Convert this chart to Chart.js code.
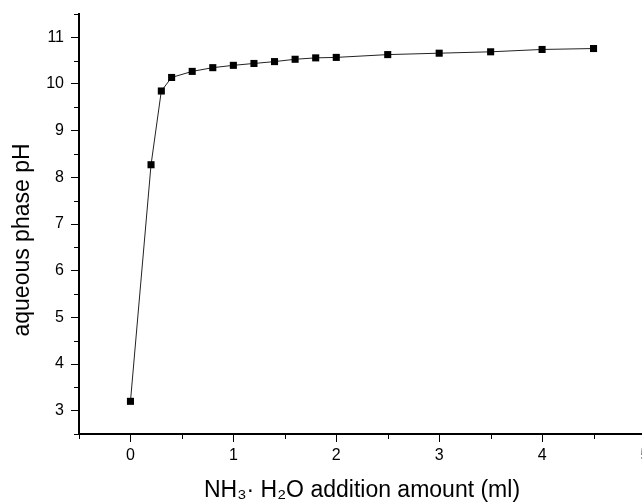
<!DOCTYPE html>
<html>
<head>
<meta charset="utf-8">
<script src="https://cdn.jsdelivr.net/npm/chart.js@4/dist/chart.umd.min.js"></script>
<style>
  html, body { margin: 0; padding: 0; background: #fff; overflow: hidden; }
  #wrap { width: 660px; height: 504px; }
</style>
</head>
<body>
<div id="wrap"><canvas id="phChart" width="660" height="504"></canvas></div>
<script>
// NH3·H2O added (ml) vs aqueous phase pH
const additionMl = [0, 0.2, 0.3, 0.4, 0.6, 0.8, 1.0, 1.2, 1.4, 1.6, 1.8, 2.0, 2.5, 3.0, 3.5, 4.0, 4.5];
const phValues = [3.20, 8.27, 9.85, 10.14, 10.27, 10.35, 10.40, 10.44, 10.48, 10.53, 10.56, 10.57, 10.63, 10.66, 10.69, 10.74, 10.76];

const xRange = [-0.5, 5];
const yRange = [2.5, 11.5];

const fontFamily = "'Liberation Sans', Arial, Helvetica, sans-serif";

const isMajor = (v) => Math.abs(v - Math.round(v)) < 1e-6;

// Chart.js has no minor ticks, so draw the half-step ones here
const minorTicks = {
  id: "minorTicks",
  afterDraw(chart) {
    const ctx = chart.ctx;
    const x = chart.scales.x;
    const y = chart.scales.y;
    ctx.save();
    ctx.strokeStyle = "#000";
    ctx.lineWidth = 1;
    x.ticks.forEach((t) => {
      if (isMajor(t.value)) return;
      const px = Math.round(x.getPixelForValue(t.value)) + 0.5;
      ctx.beginPath();
      ctx.moveTo(px, x.top);
      ctx.lineTo(px, x.top + 5);
      ctx.stroke();
    });
    y.ticks.forEach((t) => {
      if (isMajor(t.value)) return;
      const py = Math.round(y.getPixelForValue(t.value)) + 0.5;
      ctx.beginPath();
      ctx.moveTo(y.right, py);
      ctx.lineTo(y.right - 5, py);
      ctx.stroke();
    });
    ctx.restore();
  },
};

const ctx = document.getElementById("phChart").getContext("2d");

const phChart = new Chart(ctx, {
  type: "scatter",
  data: {
    datasets: [
      {
        label: "pH",
        data: additionMl.map((v, i) => ({ x: v, y: phValues[i] })),
        showLine: true,
        borderColor: "#222",
        borderWidth: 1,
        backgroundColor: "#000",
        pointStyle: "rect",
        pointRadius: 5,
        pointBorderWidth: 0,
        pointBackgroundColor: "#000",
      },
    ],
  },
  options: {
    responsive: false,
    animation: false,
    layout: { padding: { top: 14, right: 15, left: 0, bottom: 0 } },
    plugins: {
      legend: { display: false },
      tooltip: { enabled: false },
    },
    scales: {
      x: {
        type: "linear",
        min: xRange[0],
        max: xRange[1],
        afterFit(scale) {
          scale.height = 70;
          scale.paddingLeft = 0;
          scale.paddingRight = 0;
        },
        border: { display: true, color: "#000", width: 2 },
        grid: {
          drawOnChartArea: false,
          drawTicks: true,
          tickLength: 8,
          tickWidth: 1,
          tickColor: (c) => (c.tick && isMajor(c.tick.value) ? "#000" : "rgba(0,0,0,0)"),
        },
        ticks: {
          stepSize: 0.5,
          padding: 4,
          color: "#000",
          maxRotation: 0,
          autoSkip: false,
          font: { family: fontFamily, size: 16 },
          callback: (v) => (isMajor(v) ? String(Math.round(v)) : ""),
        },
        title: {
          display: true,
          text: "NH\u2083\u00b7 H\u2082O addition amount (ml)",
          color: "#000",
          font: { family: fontFamily, size: 23 },
          padding: { top: 0, bottom: 0 },
        },
      },
      y: {
        type: "linear",
        min: yRange[0],
        max: yRange[1],
        afterFit(scale) {
          scale.width = 79;
          scale.paddingTop = 0;
          scale.paddingBottom = 0;
        },
        border: { display: true, color: "#000", width: 2 },
        grid: {
          drawOnChartArea: false,
          drawTicks: true,
          tickLength: 8,
          tickWidth: 1,
          tickColor: (c) => (c.tick && isMajor(c.tick.value) ? "#000" : "rgba(0,0,0,0)"),
        },
        ticks: {
          stepSize: 0.5,
          padding: 7,
          color: "#000",
          autoSkip: false,
          font: { family: fontFamily, size: 16 },
          callback: (v) => (isMajor(v) ? String(Math.round(v)) : ""),
        },
        title: {
          display: true,
          text: "aqueous phase pH     ",
          color: "#000",
          font: { family: fontFamily, size: 23 },
          padding: { top: 9, bottom: 0 },
        },
      },
    },
  },
  plugins: [minorTicks],
});
</script>
</body>
</html>
